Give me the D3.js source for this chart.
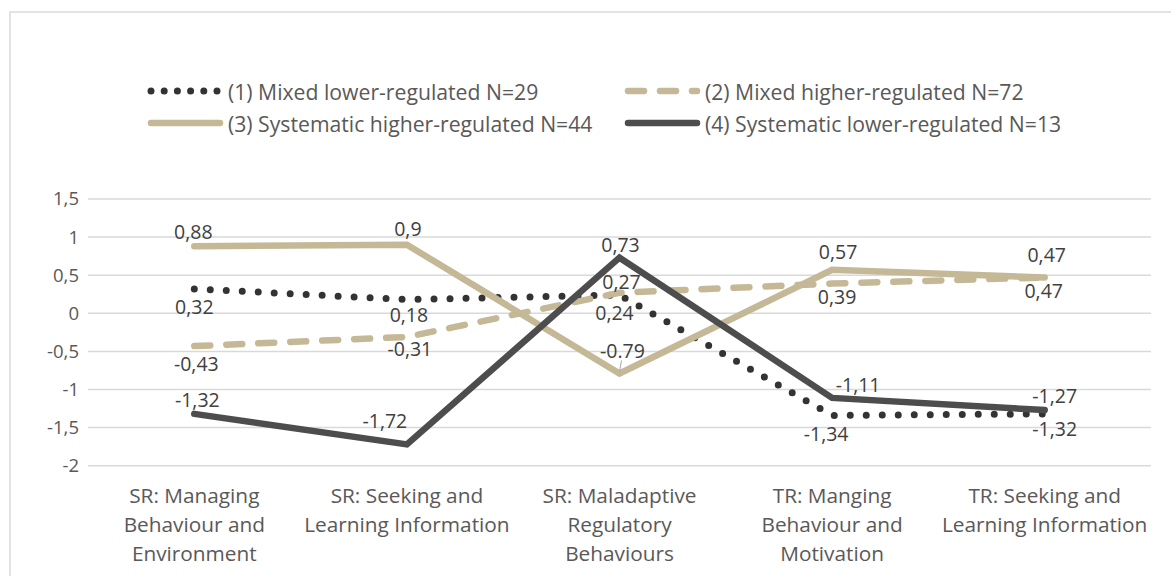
<!DOCTYPE html>
<html>
<head>
<meta charset="utf-8">
<script src="https://cdn.jsdelivr.net/npm/d3@7/dist/d3.min.js"></script>
<style>
  body { margin: 0; background: #fff; }
  svg { display: block; font-family: "Open Sans", Lato, sans-serif; }
</style>
</head>
<body>
<svg id="chart" width="1171" height="576"></svg>
<script>
// categories (x axis), each split into lines
const categories = [
  ["SR: Managing", "Behaviour and", "Environment"],
  ["SR: Seeking and", "Learning Information"],
  ["SR: Maladaptive", "Regulatory", "Behaviours"],
  ["TR: Manging", "Behaviour and", "Motivation"],
  ["TR: Seeking and", "Learning Information"]
];

const seriesNames = [
  "(1) Mixed lower-regulated N=29",
  "(2) Mixed higher-regulated N=72",
  "(3) Systematic higher-regulated N=44",
  "(4) Systematic lower-regulated N=13"
];

const mixedLower = [0.32, 0.18, 0.24, -1.34, -1.32];
const mixedHigher = [-0.43, -0.31, 0.27, 0.39, 0.47];
const systHigher = [0.88, 0.9, -0.79, 0.57, 0.47];
const systLower = [-1.32, -1.72, 0.73, -1.11, -1.27];

const yTicks = [-2, -1.5, -1, -0.5, 0, 0.5, 1, 1.5];

// label placement per series (offset from point) - mimics the original layout
const labelOffsets = [
  [[0, 18], [2, 15], [-5, 17], [-6, 18], [10, 15]],
  [[2, 17], [3, 12], [2, -11], [5, 13], [-1, 13]],
  [[-1, -15], [1, -16], [3, -23], [6, -18], [2, -23]],
  [[3, -14], [-22, -24], [1, -13], [26, -13], [10, -15]]
];

const svg = d3.select("#chart");

const fmt = d3.formatLocale({
  decimal: ",", thousands: " ", grouping: [3], currency: ["", ""], minus: "-"
}).format("~g");

const x = d3.scaleBand()
  .domain(d3.range(categories.length))
  .range([88, 1151])
  .padding(0);

const cx = i => x(i) + x.bandwidth() / 2;

const y = d3.scaleLinear().domain([-2, 1.5]).range([465.7, 199]);

// outer border
svg.append("rect")
  .attr("x", 10).attr("y", 12)
  .attr("width", 1200).attr("height", 600)
  .attr("fill", "none")
  .attr("stroke", "#e3e3e3")
  .attr("stroke-width", 2);

// gridlines
svg.append("g")
  .selectAll("line")
  .data(yTicks)
  .join("line")
  .attr("x1", 88).attr("x2", 1151)
  .attr("y1", d => y(d)).attr("y2", d => y(d))
  .attr("stroke", "#d9d9d9")
  .attr("stroke-width", 1.5);

// y axis labels
const yAxis = svg.append("g")
  .attr("transform", "translate(79,0)")
  .call(d3.axisLeft(y).tickValues(yTicks).tickFormat(fmt).tickSize(0).tickPadding(0));
yAxis.select(".domain").remove();
yAxis.selectAll("text")
  .attr("fill", "#595959")
  .style("font-size", "18.5px")
  .style("font-family", "'Open Sans', sans-serif");

// x category labels
const catG = svg.append("g");
categories.forEach((lines, i) => {
  const t = catG.append("text")
    .attr("x", cx(i))
    .attr("y", 503)
    .attr("text-anchor", "middle")
    .attr("fill", "#595959")
    .style("font-size", "20.8px");
  lines.forEach((l, j) => {
    t.append("tspan").attr("x", cx(i)).attr("dy", j === 0 ? 0 : 29).text(l);
  });
});

const series = [
  { name: seriesNames[0], values: mixedLower, color: "#333333", width: 7, dash: "0,16" },
  { name: seriesNames[1], values: mixedHigher, color: "#c4b896", width: 6.5, dash: "16,16" },
  { name: seriesNames[2], values: systHigher, color: "#c4b896", width: 6.5, dash: null },
  { name: seriesNames[3], values: systLower, color: "#4d4d4d", width: 6.5, dash: null }
];

const line = d3.line()
  .x((d, i) => cx(i))
  .y(d => y(d));

// lines
svg.append("g")
  .selectAll("path")
  .data(series)
  .join("path")
  .attr("d", d => line(d.values))
  .attr("fill", "none")
  .attr("stroke", d => d.color)
  .attr("stroke-width", d => d.width)
  .attr("stroke-linecap", "round")
  .attr("stroke-linejoin", "miter")
  .attr("stroke-dasharray", d => d.dash);

// leader line for the -0.79 label
svg.append("line")
  .attr("x1", cx(2)).attr("y1", y(systHigher[2]) - 2)
  .attr("x2", cx(2) + 2).attr("y2", y(systHigher[2]) - 13)
  .attr("stroke", "#a6a6a6").attr("stroke-width", 1);

// data labels
const labelG = svg.append("g");
series.forEach((s, si) => {
  s.values.forEach((v, i) => {
    const off = labelOffsets[si][i];
    // the original shows this one with a dot
    const txt = (si === 2 && i === 2) ? "-0.79" : fmt(v);
    labelG.append("text")
      .attr("x", cx(i) + off[0])
      .attr("y", y(v) + off[1])
      .attr("text-anchor", "middle")
      .attr("dominant-baseline", "central")
      .attr("fill", "#404040")
      .style("font-size", "19.5px")
      .text(txt);
  });
});

// legend
const legendPos = [[148, 91], [625, 91], [148, 123], [625, 123]];
const legend = svg.append("g");
series.forEach((s, i) => {
  const [lx, ly] = legendPos[i];
  legend.append("line")
    .attr("x1", lx + 3).attr("x2", lx + 72)
    .attr("y1", ly).attr("y2", ly)
    .attr("stroke", s.color)
    .attr("stroke-width", s.width)
    .attr("stroke-linecap", "round")
    .attr("stroke-dasharray", s.dash ? (s.dash === "0,16" ? "0,13.2" : s.dash) : null);
  legend.append("text")
    .attr("x", lx + 80)
    .attr("y", ly)
    .attr("dominant-baseline", "central")
    .attr("fill", "#595959")
    .style("font-size", "21.2px")
    .text(s.name);
});
</script>
</body>
</html>
